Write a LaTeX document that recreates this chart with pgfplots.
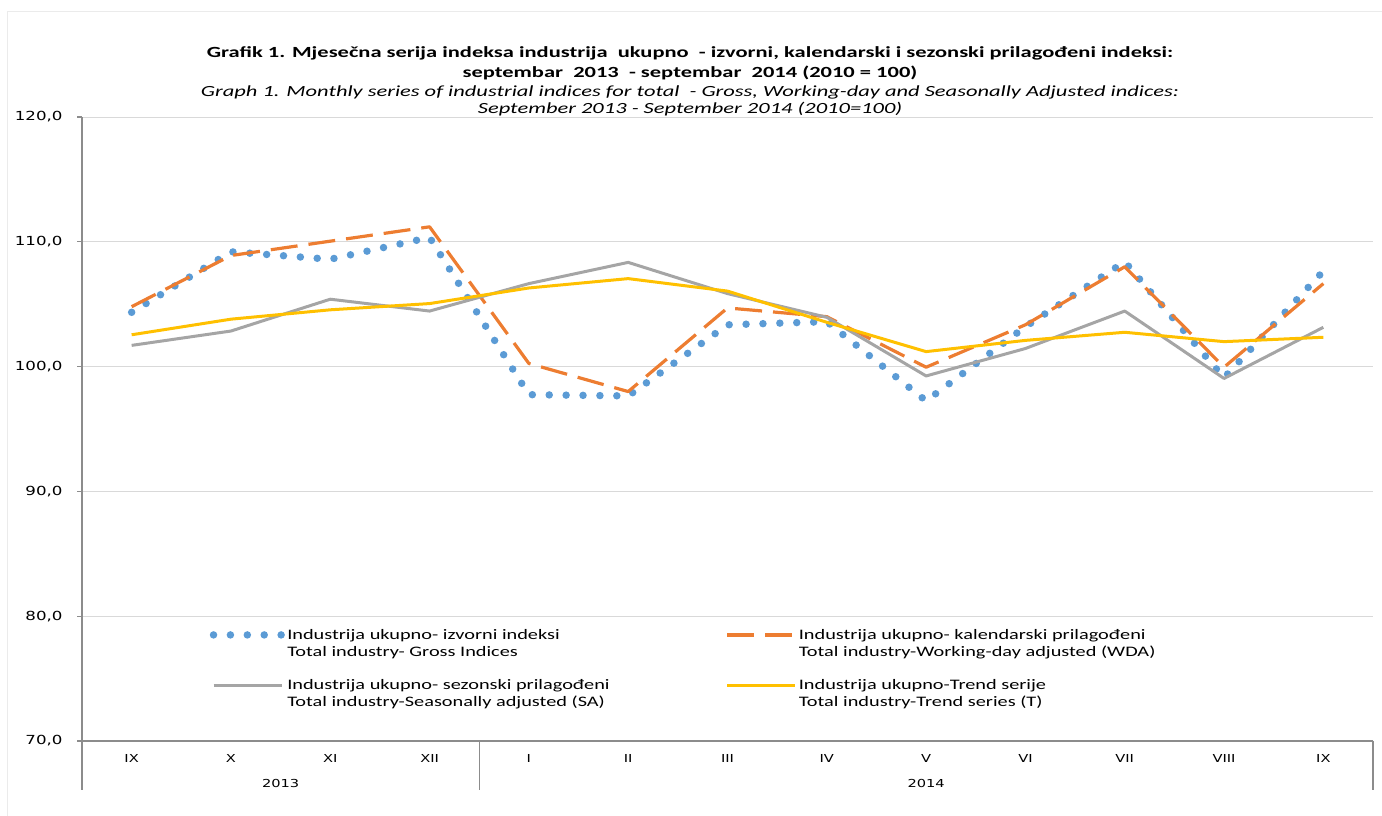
\documentclass[border=0pt]{standalone}
\usepackage{pgfplots}
\pgfplotsset{compat=1.18}
\usepackage{fontspec}
\setmainfont{Carlito}[FakeStretch=1.4]
\newfontfamily\titlefont{Carlito}[FakeStretch=1.45]
\newfontfamily\vfont{DejaVu Sans}[FakeStretch=1.33]
\definecolor{cblue}{HTML}{5B9BD5}
\definecolor{corange}{HTML}{ED7D31}
\definecolor{cgray}{HTML}{A5A5A5}
\definecolor{cyellow}{HTML}{FFC000}
\definecolor{axgray}{HTML}{8C8C8C}
\definecolor{gridc}{HTML}{D9D9D9}
\begin{document}
\begin{tikzpicture}[x=1pt,y=1pt]
\useasboundingbox (0,-75) rectangle (1382,741);
\draw[color=black!8, line width=1pt] (7,-80) -- (7,729) -- (1390,729);
\node[font=\titlefont\bfseries\fontsize{15.5}{18}\selectfont] at (690,688) {Grafik 1. Mjesečna serija indeksa industrija \ ukupno \ - izvorni, kalendarski i sezonski prilagođeni indeksi:};
\node[font=\titlefont\bfseries\fontsize{15.5}{18}\selectfont] at (690,668) {septembar \ 2013 \ - septembar \ 2014 (2010 = 100)};
\node[font=\titlefont\itshape\fontsize{15.5}{18}\selectfont] at (690,649) {Graph 1. Monthly series of industrial indices for total \ - Gross, Working-day and Seasonally Adjusted indices:};
\node[font=\titlefont\itshape\fontsize{15.5}{18}\selectfont] at (690,632) {September 2013 - September 2014 (2010=100)};
\begin{axis}[
  at={(82pt,0pt)}, anchor=south west,
  scale only axis, width=1291pt, height=624pt,
  xmin=-0.5, xmax=12.5, ymin=70, ymax=120,
  clip=false,
  axis lines*=left,
  axis line style={axgray, line width=1.3pt},
  ytick={70,80,...,120},
  ymajorgrids, grid style={gridc, line width=0.9pt},
  tick align=outside, major tick length=5pt,
  tick style={axgray, line width=1.3pt},
  yticklabel style={font=\vfont\fontsize{12.5}{15}\selectfont, xshift=-11pt},
  /pgf/number format/.cd, fixed, fixed zerofill, precision=1, use comma, assume math mode=true,
  /pgfplots/.cd,
  xtick={0,...,12},
  xticklabels={IX,X,XI,XII,I,II,III,IV,V,VI,VII,VIII,IX},
  x tick style={draw=none},
  xticklabel style={font=\vfont\fontsize{11}{13}\selectfont, anchor=center, yshift=-12pt},
  extra x ticks={-0.5,0.5,...,12.5},
  extra x tick labels={},
  extra x tick style={major tick length=23pt, tick style={axgray, line width=1.3pt, draw=axgray}, grid=none},
  legend style={at={(0.0965,0.186)}, anchor=north west, draw=none, fill=none,
    font=\fontsize{14.5}{17}\selectfont, nodes={align=left},
    /tikz/every even column/.append style={column sep=114pt}, row sep=18pt},
  legend columns=2,
  legend cell align=left,
  legend image code/.code={\path[draw=none] (0pt,-9pt) (68pt,9pt); \draw[#1] (0pt,8.5pt) -- (68pt,8.5pt);},
]
\addplot[cblue, line width=7.5pt, line cap=round, line join=round, dash pattern=on 0pt off 16.9pt] coordinates {
(0,104.35) (1,109.2) (2,108.6) (3,110.35) (4,97.75) (5,97.65) (6,103.35) (7,103.6) (8,97.25) (9,103.2) (10,108.4) (11,99.1) (12,107.65)};
\addlegendentry{Industrija ukupno- izvorni indeksi\\Total industry- Gross Indices}
\addplot[corange, line width=3.2pt, line join=round, dash pattern=on 27pt off 11pt] coordinates {
(0,104.8) (1,108.9) (2,110.05) (3,111.2) (4,100.25) (5,98.0) (6,104.7) (7,104.0) (8,99.95) (9,103.35) (10,108.0) (11,99.95) (12,106.65)};
\addlegendentry{Industrija ukupno- kalendarski prilagođeni\\Total industry-Working-day adjusted (WDA)}
\addplot[cgray, line width=3pt, line join=round] coordinates {
(0,101.7) (1,102.85) (2,105.4) (3,104.45) (4,106.65) (5,108.35) (6,105.85) (7,103.95) (8,99.25) (9,101.45) (10,104.45) (11,99.05) (12,103.15)};
\addlegendentry{Industrija ukupno- sezonski prilagođeni\\Total industry-Seasonally adjusted (SA)}
\addplot[cyellow, line width=3pt, line join=round] coordinates {
(0,102.55) (1,103.8) (2,104.55) (3,105.05) (4,106.3) (5,107.05) (6,106.05) (7,103.55) (8,101.2) (9,102.1) (10,102.75) (11,102.0) (12,102.35)};
\addlegendentry{Industrija ukupno-Trend serije\\Total industry-Trend series (T)}
\draw[axgray, line width=1.3pt] (axis cs:-0.5,70) -- ++(0pt,-49pt);
\draw[axgray, line width=1.3pt] (axis cs:3.5,70) -- ++(0pt,-49pt);
\draw[axgray, line width=1.3pt] (axis cs:12.5,70) -- ++(0pt,-49pt);
\node[font=\vfont\fontsize{11}{13}\selectfont] at ([yshift=-42pt]axis cs:1.5,70) {2013};
\node[font=\vfont\fontsize{11}{13}\selectfont] at ([yshift=-42pt]axis cs:8,70) {2014};
\end{axis}
\end{tikzpicture}
\end{document}
